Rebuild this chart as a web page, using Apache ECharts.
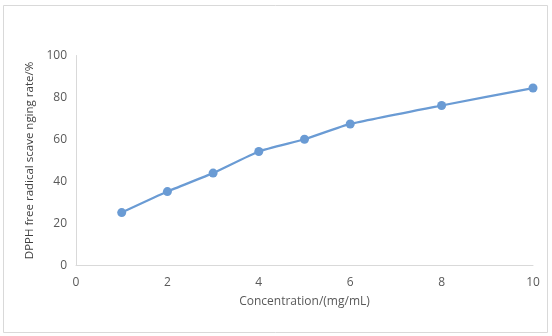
<!DOCTYPE html>
<html>
<head>
<meta charset="utf-8">
<script src="https://cdn.jsdelivr.net/npm/echarts@6/dist/echarts.min.js"></script>
<style>
  html, body { margin: 0; padding: 0; background: #fff; }
  #chart { width: 552px; height: 336px; }
</style>
</head>
<body>
<div id="chart"></div>
<script>
// Concentration (mg/mL) and DPPH radical scavenging rate (%)
const concentration = [1, 2, 3, 4, 5, 6, 8, 10];
const scavengingRate = [25.2, 35.2, 44.0, 54.3, 60.1, 67.4, 76.2, 84.5];

const xTitle = 'Concentration/(mg/mL)';
const yTitle = 'DPPH free radical scave nging rate/%';

const points = concentration.map((c, i) => [c, scavengingRate[i]]);

const labelColor = '#595959';
const axisColor = '#d9d9d9';
const fontFamily = '"Open Sans", sans-serif';

const chart = echarts.init(document.getElementById('chart'), null, { renderer: 'canvas' });
chart.setOption({
  backgroundColor: '#fff',
  animation: false,
  graphic: [{
    type: 'rect',
    shape: { x: 3.5, y: 5.5, width: 544, height: 327 },
    style: { fill: 'none', stroke: '#d9d9d9', lineWidth: 1 },
    silent: true
  }],
  grid: { left: 76, right: 19, top: 55.5, bottom: 70.5 },
  xAxis: {
    type: 'value',
    min: 0, max: 10, interval: 2,
    name: xTitle,
    nameLocation: 'middle',
    nameGap: 30,
    nameTextStyle: { color: labelColor, fontSize: 12, fontFamily },
    axisLine: { show: true, lineStyle: { color: axisColor, width: 1 } },
    axisTick: { show: false },
    splitLine: { show: false },
    axisLabel: { color: labelColor, fontSize: 12, fontFamily, margin: 11 }
  },
  yAxis: {
    type: 'value',
    min: 0, max: 100, interval: 20,
    name: yTitle,
    nameLocation: 'middle',
    nameGap: 40,
    nameTextStyle: { color: '#404040', fontSize: 11.5, fontFamily },
    axisLine: { show: true, lineStyle: { color: axisColor, width: 1 } },
    axisTick: { show: false },
    splitLine: { show: false },
    axisLabel: { color: labelColor, fontSize: 12, fontFamily, margin: 9 }
  },
  series: [{
    type: 'line',
    data: points,
    smooth: 0.15,
    symbol: 'circle',
    symbolSize: 9,
    lineStyle: { color: '#6a9bd4', width: 2.25 },
    itemStyle: { color: '#6a9bd4' }
  }]
});
</script>
</body>
</html>
